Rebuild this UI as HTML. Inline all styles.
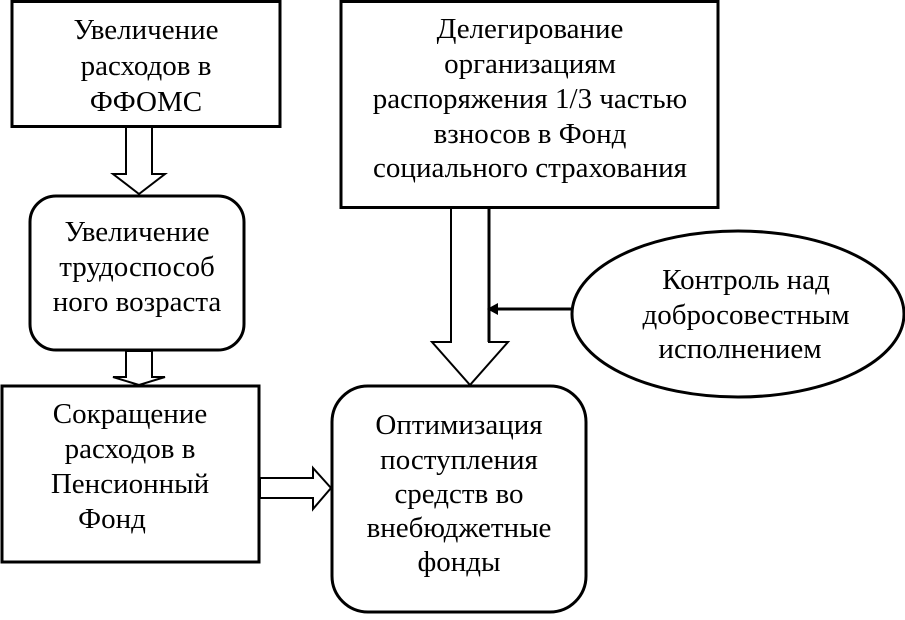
<!DOCTYPE html>
<html><head><meta charset="utf-8"><style>
html,body{margin:0;padding:0;background:#fff;}
svg text{font-family:"Liberation Serif","DejaVu Serif",serif;font-size:29px;fill:#000;text-anchor:middle;}
</style></head><body>
<svg width="905" height="615" viewBox="0 0 905 615" xmlns="http://www.w3.org/2000/svg">
<g fill="#fff" stroke="#000" stroke-width="3">
<rect x="12" y="1.5" width="268" height="125"/>
<rect x="30" y="196" width="214" height="154" rx="26"/>
<rect x="2" y="386" width="257" height="176"/>
<rect x="341" y="1.5" width="377" height="206"/>
<ellipse cx="738" cy="314" rx="166" ry="83"/>
<rect x="332" y="386" width="254" height="226" rx="36"/>
</g>
<g fill="#fff" stroke="#000" stroke-width="2">
<polygon points="126,127 152,127 152,174 165,174 139,194 113,174 126,174"/>
<polygon points="126,351 152,351 152,377 165,377 139,385 113,377 126,377"/>
<polygon points="260,478 313,478 313,468 331,488 313,509 313,498 260,498"/>
<polygon points="451,208 489,208 489,342 508,342 470,385 432,342 451,342"/>
</g>
<line x1="489" y1="208" x2="489" y2="342" stroke="#000" stroke-width="3"/>
<line x1="572" y1="309" x2="495" y2="309" stroke="#000" stroke-width="3"/>
<polygon points="487,309 498,303 498,315" fill="#000"/>
<text x="146" y="39">Увеличение</text>
<text x="146" y="75">расходов в</text>
<text x="146" y="111">ФФОМС</text>
<text x="137" y="241">Увеличение</text>
<text x="137" y="276">трудоспособ</text>
<text x="137" y="311">ного возраста</text>
<text x="130" y="423">Сокращение</text>
<text x="130" y="458">расходов в</text>
<text x="130" y="493">Пенсионный</text>
<text x="112" y="528">Фонд</text>
<text x="530" y="38">Делегирование</text>
<text x="530" y="73">организациям</text>
<text x="530" y="108">распоряжения 1/3 частью</text>
<text x="530" y="143">взносов в Фонд</text>
<text x="530" y="177">социального страхования</text>
<text x="746" y="289">Контроль над</text>
<text x="746" y="324">добросовестным</text>
<text x="740" y="358">исполнением</text>
<text x="459" y="434">Оптимизация</text>
<text x="459" y="469">поступления</text>
<text x="459" y="503">средств во</text>
<text x="459" y="537">внебюджетные</text>
<text x="459" y="571">фонды</text>
</svg>
</body></html>
